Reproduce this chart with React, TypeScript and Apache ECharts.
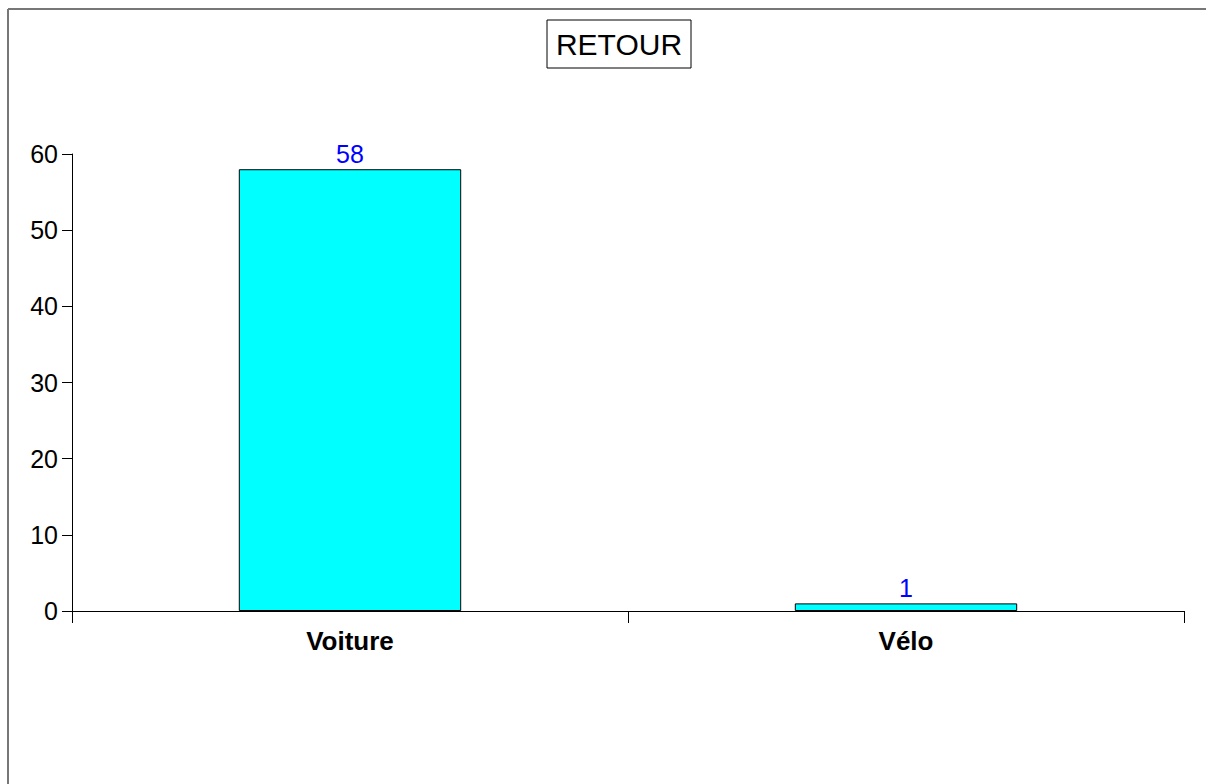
import React, { useEffect, useRef } from "react";
import * as echarts from "echarts";

const title = "RETOUR";
const categories = ["Voiture", "Vélo"];
const values = [58, 1];
const yTicks = { min: 0, max: 60, interval: 10 };

export default function App() {
  const ref = useRef<HTMLDivElement>(null);
  useEffect(() => {
    if (!ref.current) return;
    const chart = echarts.init(ref.current, undefined, { renderer: "svg" });
    const font = "'Liberation Sans', Arial, sans-serif";
    chart.setOption({
      animation: false,
      backgroundColor: "#ffffff",
      grid: { left: 72, right: 22, top: 154, bottom: 173, containLabel: false },
      xAxis: {
        type: "category",
        data: categories,
        axisLine: { lineStyle: { color: "#000", width: 1 } },
        axisTick: { show: true, length: 12, alignWithLabel: false, lineStyle: { color: "#000" } },
        axisLabel: { color: "#000", fontFamily: font, fontSize: 26, fontWeight: "bold", margin: 17 },
        splitLine: { show: false },
      },
      yAxis: {
        type: "value",
        min: yTicks.min,
        max: yTicks.max,
        interval: yTicks.interval,
        axisLine: { show: true, lineStyle: { color: "#000", width: 1 } },
        axisTick: { show: true, length: 10, lineStyle: { color: "#000" } },
        axisLabel: { color: "#000", fontFamily: font, fontSize: 25, margin: 14 },
        splitLine: { show: false },
      },
      series: [
        {
          type: "bar",
          data: values,
          barWidth: "40%",
          itemStyle: { color: "#00ffff", borderColor: "#000", borderWidth: 1 },
          label: {
            show: true,
            position: "top",
            distance: 3,
            color: "#0000ff",
            fontFamily: font,
            fontSize: 25,
          },
        },
      ],
      graphic: [
        { type: "line", shape: { x1: 8, y1: 9, x2: 1206, y2: 9 }, style: { stroke: "#777", lineWidth: 2 } },
        { type: "line", shape: { x1: 8, y1: 9, x2: 8, y2: 784 }, style: { stroke: "#777", lineWidth: 2 } },
        {
          type: "rect",
          shape: { x: 547, y: 20, width: 144, height: 48 },
          style: { fill: "#fff", stroke: "#000", lineWidth: 1 },
        },
        {
          type: "text",
          x: 619,
          y: 44,
          style: {
            text: title,
            fontFamily: font,
            fontSize: 30,
            fill: "#000",
            align: "center",
            verticalAlign: "middle",
          },
        },
      ],
    });
    return () => chart.dispose();
  }, []);
  return (
    <div
      ref={ref}
      style={{ position: "fixed", left: 0, top: 0, width: 1206, height: 784 }}
    />
  );
}
